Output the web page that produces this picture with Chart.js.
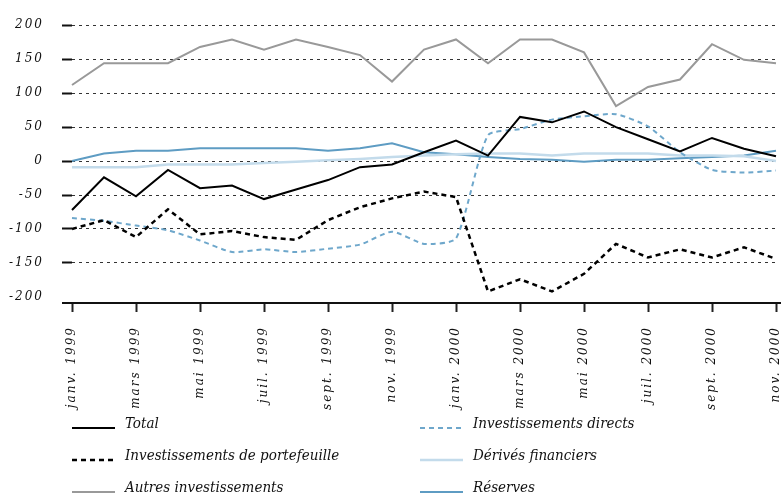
<!DOCTYPE html>
<html>
<head>
<meta charset="utf-8">
<script src="https://cdn.jsdelivr.net/npm/chart.js@4"></script>
<style>
  html, body { margin: 0; padding: 0; background: #fff; }
  #wrap { width: 781px; height: 495px; position: relative; }
</style>
</head>
<body>
<div id="wrap"><canvas id="chart" width="781" height="495"></canvas></div>
<script>
// mois, janv. 1999 -> nov. 2000
const months = ['janv. 1999', 'févr. 1999', 'mars 1999', 'avr. 1999', 'mai 1999', 'juin 1999',
  'juil. 1999', 'août 1999', 'sept. 1999', 'oct. 1999', 'nov. 1999', 'déc. 1999',
  'janv. 2000', 'févr. 2000', 'mars 2000', 'avr. 2000', 'mai 2000', 'juin 2000',
  'juil. 2000', 'août 2000', 'sept. 2000', 'oct. 2000', 'nov. 2000'];

const yTicks = [200, 150, 100, 50, 0, -50, -100, -150, -200];

const total = [-72, -24, -52, -13, -40, -36, -56, -42, -28, -9, -5, 13, 30, 8, 65, 57, 73, 50, 32, 14, 34, 18, 7];
const portefeuille = [-100, -87, -112, -71, -108, -103, -112, -116, -87, -68, -55, -45, -53, -192, -174, -192, -166, -122, -142, -130, -142, -127, -144];
const autres = [112, 144, 144, 144, 168, 179, 164, 179, 168, 156, 117, 164, 179, 144, 179, 179, 160, 81, 109, 120, 172, 149, 144];
const directs = [-84, -88, -95, -102, -117, -134, -130, -134, -129, -123, -104, -122, -114, 38, 47, 61, 66, 69, 51, 13, -13, -17, -14];
const derives = [-9, -9, -9, -5, -5, -5, -3, -1, 1, 3, 6, 8, 10, 11, 11, 8, 11, 11, 11, 8, 8, 7, 0];
const reserves = [0, 11, 15, 15, 19, 19, 19, 19, 15, 19, 26, 13, 10, 6, 3, 2, -1, 2, 2, 4, 6, 8, 15];

// legende en deux colonnes + ligne de l'axe x
const extras = {
  id: 'extras',
  afterDraw(chart) {
    const ctx = chart.ctx;
    const area = chart.chartArea;
    ctx.save();
    ctx.strokeStyle = '#111';
    ctx.lineWidth = 2;
    ctx.beginPath();
    ctx.moveTo(62, area.bottom);
    ctx.lineTo(781, area.bottom);
    ctx.stroke();

    ctx.letterSpacing = '0px';
    ctx.font = 'italic 15px "DejaVu Serif Condensed", "DejaVu Serif"';
    ctx.textBaseline = 'middle';
    ctx.fillStyle = '#111';
    const cols = [72, 420];
    const rows = [425, 457, 489];
    chart.data.datasets.forEach((ds, i) => {
      const x = cols[Math.floor(i / 3)];
      const y = rows[i % 3];
      ctx.strokeStyle = ds.borderColor;
      ctx.lineWidth = ds.borderWidth;
      ctx.setLineDash(ds.borderDash || []);
      ctx.beginPath();
      ctx.moveTo(x, y + 3);
      ctx.lineTo(x + 43, y + 3);
      ctx.stroke();
      ctx.setLineDash([]);
      ctx.fillText(ds.label, x + 53, y - 1);
    });
    ctx.restore();
  }
};

const spacing = {
  id: 'spacing',
  beforeDraw(chart) { chart.ctx.letterSpacing = '2px'; }
};

const ctx = document.getElementById('chart').getContext('2d');
const chart = new Chart(ctx, {
  type: 'line',
  data: {
    labels: months,
    datasets: [
      { label: 'Total', data: total, borderColor: '#000', borderWidth: 2 },
      { label: 'Investissements de portefeuille', data: portefeuille, borderColor: '#000', borderWidth: 2.5, borderDash: [5, 4] },
      { label: 'Autres investissements', data: autres, borderColor: '#999', borderWidth: 2 },
      { label: 'Investissements directs', data: directs, borderColor: '#6ea7cb', borderWidth: 2, borderDash: [5, 4], tension: 0.2 },
      { label: 'Dérivés financiers', data: derives, borderColor: '#c3dbeb', borderWidth: 2.5 },
      { label: 'Réserves', data: reserves, borderColor: '#5e9cc3', borderWidth: 2 }
    ]
  },
  options: {
    responsive: false,
    animation: false,
    layout: { padding: { top: 24, right: 5, left: 0, bottom: 0 } },
    elements: { point: { radius: 0 }, line: { tension: 0 } },
    plugins: { legend: { display: false }, tooltip: { enabled: false } },
    scales: {
      x: {
        offset: false,
        afterFit: s => { s.height = 192; s.paddingRight = 0; s.paddingLeft = 0; },
        border: { display: false },
        grid: { drawOnChartArea: false, drawTicks: true, tickLength: 9, tickWidth: 2, tickColor: '#222' },
        ticks: {
          autoSkip: false, maxRotation: 90, minRotation: 90, padding: 14,
          color: '#111', font: { family: '"DejaVu Serif"', style: 'italic', size: 12 },
          callback: function (v, i) { return i % 2 === 0 ? this.getLabelForValue(v) : null; }
        }
      },
      y: {
        min: -209, max: 200,
        afterFit: s => { s.width = 72; },
        afterBuildTicks: s => { s.ticks = yTicks.map(v => ({ value: v })); },
        border: { display: false, dash: [3, 4] },
        grid: {
          color: c => c.tick && c.tick.value === -200 ? 'rgba(0,0,0,0)' : '#333',
          tickColor: c => c.tick && c.tick.value === -200 ? 'rgba(0,0,0,0)' : '#111',
          lineWidth: 1, tickWidth: 2, tickLength: 10, tickBorderDash: []
        },
        ticks: {
          padding: 18, color: '#111',
          font: { family: '"DejaVu Serif"', style: 'italic', size: 12 }
        }
      }
    }
  },
  plugins: [spacing, extras]
});
</script>
</body>
</html>
